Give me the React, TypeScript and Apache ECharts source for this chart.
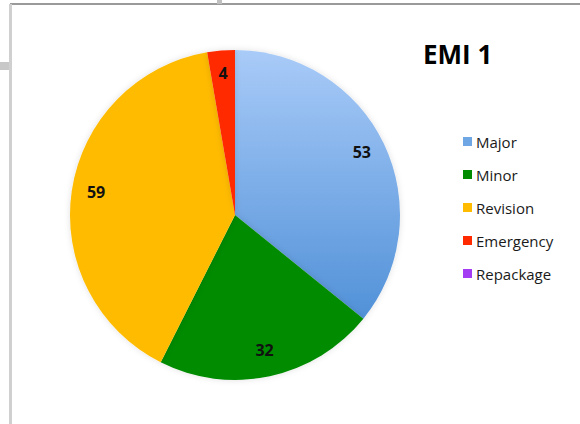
import React, { useEffect, useRef } from "react";
import * as echarts from "echarts";

const categories = ["Major", "Minor", "Revision", "Emergency", "Repackage"];
const values = [53, 32, 59, 4, 0];
const title = "EMI 1";

const colors = [
  new echarts.graphic.LinearGradient(0, 0, 0, 1, [
    { offset: 0, color: "#a9cbf8" },
    { offset: 1, color: "#5191d8" },
  ]),
  "#008b00",
  "#ffbb00",
  "#ff2a00",
  "#a33cf2",
];
const legendColors = ["#6fa6e4", "#008b00", "#ffbb00", "#ff2a00", "#a33cf2"];

export default function App() {
  const ref = useRef<HTMLDivElement>(null);
  useEffect(() => {
    document.body.style.margin = "0";
    const chart = echarts.init(ref.current!, null, { renderer: "svg" });
    const data = categories.map((name, i) => ({
      name,
      value: values[i],
      itemStyle: { color: colors[i] },
    }));
    chart.setOption({
      animation: false,
      backgroundColor: "#ffffff",
      title: {
        text: title,
        left: 418,
        top: 36,
        textStyle: {
          fontFamily: "Open Sans",
          fontWeight: "bold",
          fontSize: 26,
          color: "#000",
        },
      },
      legend: {
        orient: "vertical",
        left: 458,
        top: 128,
        itemWidth: 9,
        itemHeight: 9,
        itemGap: 16,
        icon: "rect",
        selectedMode: false,
        data: categories.map((name, i) => ({
          name,
          itemStyle: { color: legendColors[i] },
        })),
        textStyle: {
          fontFamily: "Open Sans",
          fontSize: 15,
          lineHeight: 17,
          color: "#1a1a1a",
          padding: [0, 0, 0, -1],
        },
      },
      graphic: [
        { type: "rect", shape: { x: 10, y: 3, width: 570, height: 2 }, style: { fill: "#9a9a9a" } },
        { type: "rect", shape: { x: 9, y: 4, width: 3, height: 420 }, style: { fill: "#d0d0d0" } },
        { type: "rect", shape: { x: 0, y: 62, width: 9, height: 8 }, style: { fill: "#c8c8c8" } },
        { type: "rect", shape: { x: 217, y: 0, width: 5, height: 4 }, style: { fill: "#c0c0c0" } },
      ],
      series: [
        {
          type: "pie",
          center: [235, 215],
          radius: 165,
          startAngle: 90,
          clockwise: true,
          silent: true,
          avoidLabelOverlap: false,
          label: { show: false },
          labelLine: { show: false },
          itemStyle: { borderWidth: 0, shadowBlur: 6, shadowColor: "rgba(0,0,0,0.12)" },
          data,
        },
        {
          type: "pie",
          center: [235, 215],
          radius: [110, 165],
          startAngle: 90,
          clockwise: true,
          silent: true,
          avoidLabelOverlap: false,
          itemStyle: { color: "rgba(0,0,0,0)", borderWidth: 0 },
          label: {
            show: true,
            position: "inside",
            formatter: (p: any) => (p.value > 0 ? String(p.value) : ""),
            fontFamily: "Open Sans",
            fontWeight: "bold",
            fontSize: 16,
            color: "#111",
            offset: [0, -2],
          },
          labelLine: { show: false },
          data: categories.map((name, i) => ({ name: name + " ", value: values[i] })),
        },
      ],
    });
    return () => chart.dispose();
  }, []);
  return <div ref={ref} style={{ width: 580, height: 424 }} />;
}
